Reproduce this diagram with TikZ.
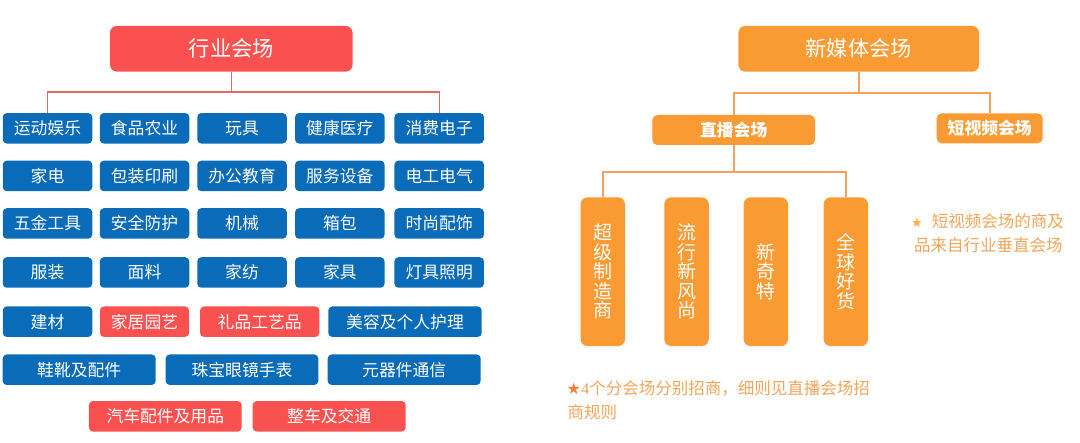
\documentclass[tikz,border=0pt]{standalone}
\usepackage{fontspec}
\setmainfont{Noto Sans CJK SC}
\newfontfamily\dejavu{DejaVu Sans}
\newfontfamily\serifnum{Liberation Serif}
\definecolor{cr}{HTML}{F9514F}
\definecolor{cb}{HTML}{0A6CB8}
\definecolor{co}{HTML}{FA9A33}
\definecolor{lr}{HTML}{E86666}
\definecolor{lo}{HTML}{F3A35E}
\definecolor{nt}{HTML}{F4A458}
\definecolor{st}{HTML}{F0803A}
\definecolor{st2}{HTML}{F5B040}
\tikzset{
  bluebox/.style={fill=cb, rounded corners=4pt, text=white, inner sep=0pt,
    font=\fontsize{16.8}{18}\selectfont, minimum height=30.5pt},
  redbox/.style={bluebox, fill=cr},
  headbox/.style={rounded corners=7pt, text=white, inner sep=0pt,
    font=\fontsize{21.3}{23}\selectfont, minimum height=45.7pt},
  subbox/.style={fill=co, rounded corners=5pt, text=white, inner sep=0pt,
    font=\fontsize{16.8}{18}\selectfont\bfseries, minimum height=30pt},
  vbox/.style={fill=co, rounded corners=7pt, text=white, inner sep=0pt, align=center,
    font=\fontsize{19}{19.5}\selectfont, minimum width=44.5pt, minimum height=148.7pt},
  redline/.style={draw=lr, line width=1.4pt},
  orangeline/.style={draw=lo, line width=1.6pt},
  note/.style={text=nt, inner sep=0pt, anchor=base west, font=\fontsize{16.5}{18}\selectfont},
}
\begin{document}
\begin{tikzpicture}[x=1pt,y=-1pt]
\useasboundingbox (0,0) rectangle (1080,443);
% ---------- left: 行业会场 ----------
\node[headbox, fill=cr, minimum width=242.7pt] (hy) at (231.3,48.8) {行业会场};
% row 1
\node[bluebox, minimum width=89.5pt] (a11) at (47.5,128.3) {运动娱乐};
\node[bluebox, minimum width=89.5pt] (a12) at (144.5,128.3) {食品农业};
\node[bluebox, minimum width=89.5pt] (a13) at (242,128.3) {玩具};
\node[bluebox, minimum width=89.5pt] (a14) at (339.8,128.3) {健康医疗};
\node[bluebox, minimum width=89.5pt] (a15) at (439.2,128.3) {消费电子};
% row 2
\node[bluebox, minimum width=89.5pt] (a21) at (47.5,175.9) {家电};
\node[bluebox, minimum width=89.5pt] (a22) at (144.5,175.9) {包装印刷};
\node[bluebox, minimum width=89.5pt] (a23) at (242,175.9) {办公教育};
\node[bluebox, minimum width=89.5pt] (a24) at (339.8,175.9) {服务设备};
\node[bluebox, minimum width=89.5pt] (a25) at (439.2,175.9) {电工电气};
% row 3
\node[bluebox, minimum width=89.5pt] (a31) at (47.5,223.5) {五金工具};
\node[bluebox, minimum width=89.5pt] (a32) at (144.5,223.5) {安全防护};
\node[bluebox, minimum width=89.5pt] (a33) at (242,223.5) {机械};
\node[bluebox, minimum width=89.5pt] (a34) at (339.8,223.5) {箱包};
\node[bluebox, minimum width=89.5pt] (a35) at (439.2,223.5) {时尚配饰};
% row 4
\node[bluebox, minimum width=89.5pt] (a41) at (47.5,272.5) {服装};
\node[bluebox, minimum width=89.5pt] (a42) at (144.5,272.5) {面料};
\node[bluebox, minimum width=89.5pt] (a43) at (242,272.5) {家纺};
\node[bluebox, minimum width=89.5pt] (a44) at (339.8,272.5) {家具};
\node[bluebox, minimum width=89.5pt] (a45) at (439.2,272.5) {灯具照明};
% row 5
\node[bluebox, minimum width=89.5pt] (a51) at (47.5,321.7) {建材};
\node[redbox, minimum width=89pt] (a52) at (144.5,321.7) {家居园艺};
\node[redbox, minimum width=119.3pt] (a53) at (259.7,321.7) {礼品工艺品};
\node[bluebox, minimum width=153.4pt] (a54) at (405,321.7) {美容及个人护理};
% row 6
\node[bluebox, minimum width=153pt] (a61) at (79.2,369.7) {鞋靴及配件};
\node[bluebox, minimum width=152.6pt] (a62) at (242,369.7) {珠宝眼镜手表};
\node[bluebox, minimum width=153pt] (a63) at (404.2,369.7) {元器件通信};
% row 7
\node[redbox, minimum width=152.7pt] (a71) at (165.3,416.3) {汽车配件及用品};
\node[redbox, minimum width=153pt] (a72) at (329.2,416.3) {整车及交通};
% connectors
\coordinate (hyj) at (231.3,92);
\draw[redline] (hy.south) -- (hyj);
\draw[redline] (a11.north) |- (hyj) -| (a15.north);
% ---------- right: 新媒体会场 ----------
\node[headbox, fill=co, minimum width=240.7pt] (xm) at (858.7,48.8) {新媒体会场};
\node[subbox, minimum width=162.7pt] (zb) at (733.7,130) {直播会场};
\node[subbox, minimum width=106pt] (dsp) at (989.7,128.3) {短视频会场};
\node[vbox] (v1) at (602.8,271.7) {超\\级\\制\\造\\商};
\node[vbox] (v2) at (686.5,271.7) {流\\行\\新\\风\\尚};
\node[vbox] (v3) at (765.8,271.7) {新\\奇\\特};
\node[vbox] (v4) at (845.8,271.7) {全\\球\\好\\货};
\coordinate (xj) at (858.7,93);
\draw[orangeline] (xm.south) -- (xj);
\draw[orangeline] (zb.north) |- (xj) -| (dsp.north);
\coordinate (zj) at (733.7,172);
\draw[orangeline] (zb.south) -- (zj);
\draw[orangeline] (v1.north) |- (zj) -| (v4.north);
% notes
\node[note] (n1a) at (911,227.9) {{\dejavu\fontsize{13}{13}\selectfont\color{st2}★}\hspace{9pt}短视频会场的商及};
\node[note] (n1b) at (914,251.2) {品来自行业垂直会场};
\node[note] (n2a) at (566.5,394.6) {{\dejavu\fontsize{16}{16}\selectfont\color{st}★}{\serifnum 4}个分会场分别招商，细则见直播会场招};
\node[note] (n2b) at (567.3,419) {商规则};
\end{tikzpicture}
\end{document}
